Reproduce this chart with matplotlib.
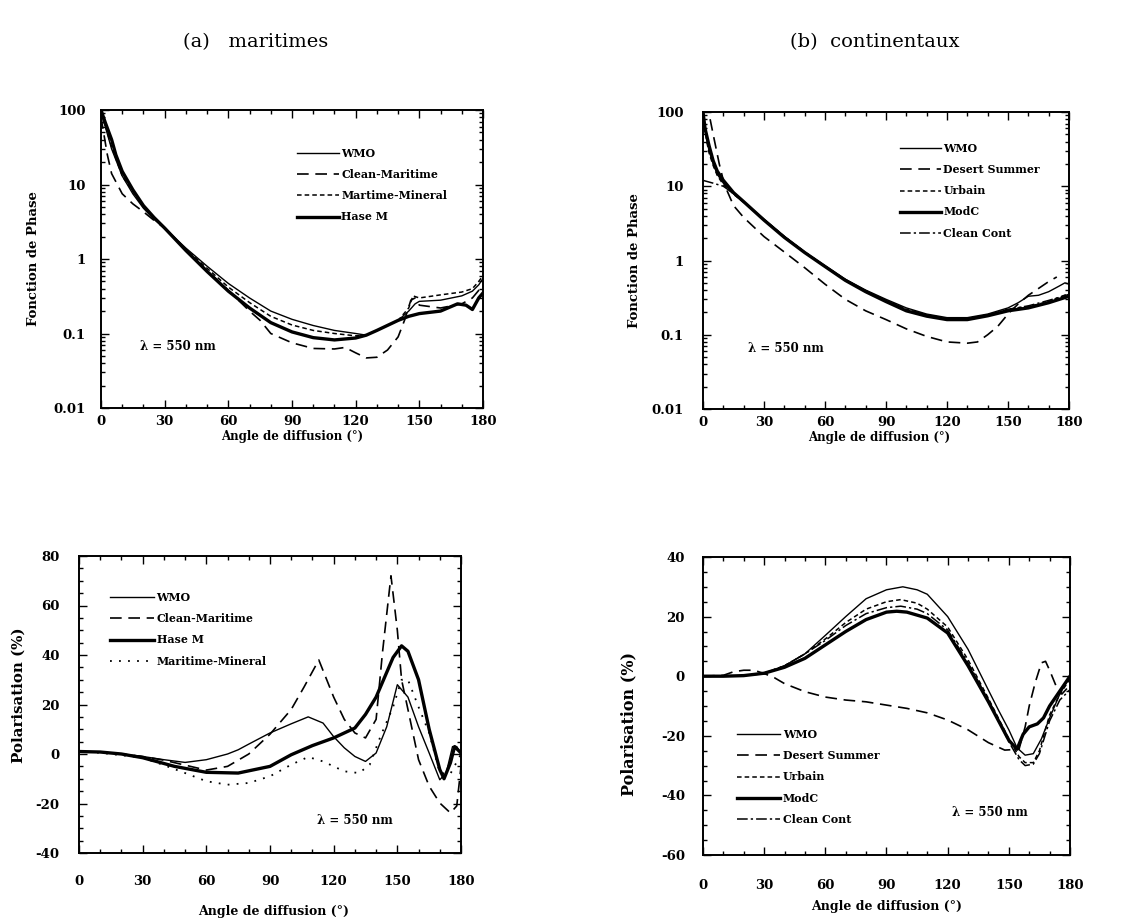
import numpy as np
import matplotlib
matplotlib.use("Agg")
import matplotlib.pyplot as plt
from matplotlib.ticker import MultipleLocator, LogLocator, NullFormatter, FixedLocator, FixedFormatter

# ---------------- data ----------------
# (a) maritimes - phase function
a_wmo_x = [0, 2, 5, 10, 15, 20, 25, 30, 40, 50, 60, 70, 80, 90, 100, 110, 120, 125, 130, 140, 145, 148, 150, 160, 170, 175, 178, 180]
a_wmo_y = [90, 60, 30, 13, 7.5, 4.8, 3.4, 2.6, 1.4, 0.8, 0.47, 0.3, 0.2, 0.155, 0.128, 0.11, 0.1, 0.095, 0.11, 0.15, 0.2, 0.25, 0.27, 0.28, 0.32, 0.37, 0.45, 0.55]
a_cm_x = [0, 3, 5, 10, 15, 20, 25, 30, 40, 50, 60, 70, 75, 80, 90, 100, 110, 115, 120, 125, 130, 135, 140, 143, 146, 148, 150, 160, 170, 175, 178, 180]
a_cm_y = [80, 25, 14, 7.5, 5.5, 4.3, 3.3, 2.6, 1.3, 0.7, 0.38, 0.2, 0.15, 0.1, 0.075, 0.063, 0.062, 0.065, 0.055, 0.047, 0.048, 0.06, 0.09, 0.15, 0.28, 0.3, 0.24, 0.22, 0.25, 0.3, 0.38, 0.42]
a_mm_x = [0, 2, 5, 10, 20, 30, 40, 50, 60, 70, 80, 90, 100, 110, 120, 125, 130, 140, 145, 147, 150, 160, 170, 175, 178, 180]
a_mm_y = [90, 62, 32, 13, 5, 2.6, 1.35, 0.75, 0.42, 0.26, 0.17, 0.13, 0.11, 0.1, 0.093, 0.095, 0.11, 0.15, 0.22, 0.32, 0.3, 0.33, 0.36, 0.4, 0.5, 0.6]
a_hm_x = [0, 2, 5, 7, 10, 15, 20, 25, 30, 40, 50, 60, 70, 80, 90, 100, 110, 120, 125, 130, 140, 145, 150, 160, 168, 172, 175, 178, 180]
a_hm_y = [100, 68, 40, 25, 15, 8.5, 5.2, 3.6, 2.6, 1.3, 0.68, 0.37, 0.22, 0.14, 0.105, 0.088, 0.082, 0.087, 0.095, 0.11, 0.15, 0.17, 0.185, 0.2, 0.25, 0.24, 0.21, 0.3, 0.35]

# (b) continentaux - phase function
b_wmo_x = [0, 1, 2, 3, 5, 7, 10, 15, 20, 30, 40, 50, 60, 70, 80, 90, 100, 110, 120, 130, 140, 150, 155, 160, 165, 170, 175, 178, 180]
b_wmo_y = [100, 60, 40, 30, 20, 14.5, 11, 8, 6.2, 3.6, 2.1, 1.3, 0.85, 0.56, 0.4, 0.3, 0.23, 0.19, 0.17, 0.17, 0.19, 0.23, 0.27, 0.33, 0.34, 0.38, 0.45, 0.5, 0.48]
b_ds_x = [3.5, 5, 8, 10, 12, 15, 20, 30, 40, 50, 60, 70, 80, 90, 100, 110, 120, 130, 135, 140, 145, 150, 155, 160, 165, 170, 174]
b_ds_y = [80, 50, 20, 12, 8.5, 5.5, 3.8, 2.1, 1.3, 0.8, 0.48, 0.3, 0.21, 0.16, 0.12, 0.095, 0.08, 0.077, 0.08, 0.1, 0.13, 0.19, 0.26, 0.34, 0.42, 0.52, 0.6]
b_ur_x = [0, 1, 2, 3, 5, 7, 10, 15, 20, 30, 40, 50, 60, 70, 80, 90, 100, 110, 120, 130, 140, 150, 160, 170, 180]
b_ur_y = [100, 58, 38, 28, 19, 14, 10.5, 7.8, 6.1, 3.55, 2.1, 1.3, 0.84, 0.55, 0.39, 0.29, 0.22, 0.185, 0.165, 0.165, 0.185, 0.22, 0.24, 0.28, 0.36]
b_mc_x = [0, 1, 3, 5, 7, 10, 15, 20, 30, 40, 50, 60, 70, 80, 90, 100, 110, 120, 130, 140, 150, 160, 170, 180]
b_mc_y = [100, 60, 35, 22, 16, 12, 8.2, 6.2, 3.5, 2.05, 1.28, 0.83, 0.54, 0.38, 0.28, 0.21, 0.178, 0.16, 0.16, 0.18, 0.21, 0.23, 0.27, 0.33]
b_cc_x = [0, 5, 10, 15, 20, 30, 40, 50, 60, 70, 80, 90, 100, 110, 120, 130, 140, 150, 160, 170, 180]
b_cc_y = [12, 11, 10, 8, 6.1, 3.55, 2.1, 1.3, 0.84, 0.55, 0.39, 0.29, 0.22, 0.185, 0.165, 0.165, 0.185, 0.22, 0.245, 0.29, 0.35]

# (a) maritimes - polarisation
p_a_wmo_x = [0, 10, 20, 30, 40, 50, 60, 70, 75, 80, 90, 100, 108, 115, 120, 125, 130, 135, 140, 145, 150, 155, 160, 165, 170, 173, 176, 178, 180]
p_a_wmo_y = [1, 0.8, 0, -1, -2.3, -3.4, -2.3, 0, 1.7, 4, 8.5, 12.2, 15, 12.5, 7, 2.5, -1, -3, 0.4, 11, 28, 23, 11, 0.4, -10.4, -7.7, 3, 3, 0]
p_a_cm_x = [0, 10, 20, 30, 40, 50, 60, 70, 80, 90, 100, 106, 113, 120, 125, 130, 135, 140, 143, 147, 150, 152, 155, 160, 165, 170, 175, 178, 180]
p_a_cm_y = [1, 0.8, 0, -1, -2.5, -4.5, -6.5, -5, 0, 8, 18, 27, 38, 23, 14, 8.5, 6.5, 14, 41, 72, 50, 30, 18, -2.3, -13, -19.8, -23.8, -21, -5]
p_a_hm_x = [0, 10, 20, 30, 45, 60, 75, 90, 100, 110, 120, 130, 135, 140, 145, 148, 152, 155, 160, 165, 170, 172, 175, 177, 180]
p_a_hm_y = [1, 0.8, 0, -1.5, -5, -7.4, -7.7, -5, -0.3, 3.4, 6.5, 10.5, 16, 23, 33, 39, 43.7, 41.5, 30, 10, -6.3, -10, -3.6, 3, 0.4]
p_a_mm_x = [0, 10, 20, 30, 40, 50, 60, 70, 80, 90, 100, 108, 115, 125, 132, 137, 142, 148, 152, 155, 160, 165, 170, 175, 180]
p_a_mm_y = [1, 0.5, -0.5, -1.5, -4.5, -7.7, -11, -12.4, -11.7, -9, -4.3, -1.2, -3, -7, -7.7, -4.3, 7, 19, 30, 30, 19, 8.5, -7.7, -8, 0]

# (b) continentaux - polarisation
p_b_wmo_x = [0, 10, 20, 30, 40, 50, 60, 70, 80, 90, 98, 105, 110, 120, 130, 140, 145, 150, 154, 158, 162, 166, 170, 175, 180]
p_b_wmo_y = [0, 0, 0.2, 0.8, 3.5, 7.5, 13.7, 20, 26, 29, 30, 29, 27.5, 20, 9, -4.7, -11.5, -18, -24, -26.5, -26, -21, -14, -6, 0]
p_b_ds_x = [0, 10, 15, 20, 25, 30, 35, 40, 50, 60, 70, 80, 90, 100, 110, 120, 130, 140, 148, 155, 158, 160, 163, 166, 168, 170, 173, 176, 180]
p_b_ds_y = [0, 0.3, 1.5, 2, 2, 0.9, -0.5, -2.5, -5.2, -7, -8, -8.6, -9.7, -10.8, -12.3, -14.7, -18, -22.3, -24.8, -24.5, -17, -10, -2, 4.5, 5, 2, -3, -6, -3]
p_b_ur_x = [0, 10, 20, 30, 40, 50, 60, 70, 80, 90, 97, 105, 110, 120, 130, 140, 150, 155, 158, 162, 165, 170, 175, 180]
p_b_ur_y = [0, 0, 0.2, 1, 3.5, 7.5, 12.5, 18, 22.5, 25, 25.7, 24.5, 22.5, 16.5, 5.5, -7.5, -21, -27, -29, -29, -25, -13, -6, -1]
p_b_mc_x = [0, 10, 20, 30, 40, 50, 60, 70, 80, 90, 95, 100, 110, 120, 130, 140, 150, 154, 157, 160, 164, 167, 170, 175, 180]
p_b_mc_y = [0, 0, 0.2, 1, 3, 6, 10.5, 15, 19, 21.5, 21.8, 21.5, 19.5, 14.5, 3.5, -8.6, -21.5, -24.5, -19.5, -17, -16, -14, -10, -5, 0]
p_b_cc_x = [0, 10, 20, 30, 40, 50, 60, 70, 80, 90, 97, 105, 110, 120, 130, 140, 150, 155, 158, 162, 165, 170, 175, 180]
p_b_cc_y = [0, 0, 0.2, 1, 3.5, 7.5, 12, 17, 21, 23, 23.5, 22.5, 21, 15.5, 4.5, -8, -22, -28, -30, -29.5, -26, -15, -8, -4.5]

# ---------------- style ----------------
SERIF = ["DejaVu Serif"]
plt.rcParams["font.family"] = SERIF
plt.rcParams["font.weight"] = "bold"
plt.rcParams["axes.unicode_minus"] = False

fig = plt.figure(figsize=(11.39, 9.22), dpi=100)
W, H = 1139, 922

def add_ax(l, t, r, b):
    return fig.add_axes([l / W, 1 - b / H, (r - l) / W, (b - t) / H])

axA = add_ax(101, 110, 483, 408)
axB = add_ax(703, 112, 1069, 409)
axC = add_ax(79, 556, 461, 853)
axD = add_ax(703, 557, 1070, 855)

thin = dict(color="black", lw=1.0, ls="-")
thick = dict(color="black", lw=2.4, ls="-")
longdash = dict(color="black", lw=1.2, ls=(0, (7, 4)))
shortdash = dict(color="black", lw=1.1, ls=(0, (3, 2)))
dotted = dict(color="black", lw=1.3, ls=(0, (1, 4)))
dashdot = dict(color="black", lw=1.1, ls=(0, (7, 2, 1.5, 2)))

# Panel A
axA.plot(a_wmo_x, a_wmo_y, label="WMO", **thin)
axA.plot(a_cm_x, a_cm_y, label="Clean-Maritime", **longdash)
axA.plot(a_mm_x, a_mm_y, label="Martime-Mineral", **shortdash)
axA.plot(a_hm_x, a_hm_y, label="Hase M", **thick)

# Panel B
axB.plot(b_wmo_x, b_wmo_y, label="WMO", **thin)
axB.plot(b_ds_x, b_ds_y, label="Desert Summer", **longdash)
axB.plot(b_ur_x, b_ur_y, label="Urbain", **shortdash)
axB.plot(b_mc_x, b_mc_y, label="ModC", **thick)
axB.plot(b_cc_x, b_cc_y, label="Clean Cont", **dashdot)

# Panel C
axC.plot(p_a_wmo_x, p_a_wmo_y, label="WMO", **thin)
axC.plot(p_a_cm_x, p_a_cm_y, label="Clean-Maritime", **longdash)
axC.plot(p_a_hm_x, p_a_hm_y, label="Hase M", **thick)
axC.plot(p_a_mm_x, p_a_mm_y, label="Maritime-Mineral", **dotted)

# Panel D
axD.plot(p_b_wmo_x, p_b_wmo_y, label="WMO", **thin)
axD.plot(p_b_ds_x, p_b_ds_y, label="Desert Summer", **longdash)
axD.plot(p_b_ur_x, p_b_ur_y, label="Urbain", **shortdash)
axD.plot(p_b_mc_x, p_b_mc_y, label="ModC", **thick)
axD.plot(p_b_cc_x, p_b_cc_y, label="Clean Cont", **dashdot)

for ax in (axA, axB):
    ax.set_yscale("log")
    ax.set_ylim(0.01, 100)
    ax.yaxis.set_major_locator(FixedLocator([0.01, 0.1, 1, 10, 100]))
    ax.yaxis.set_major_formatter(FixedFormatter(["0.01", "0.1", "1", "10", "100"]))
    ax.yaxis.set_minor_locator(LogLocator(base=10, subs=np.arange(2, 10)))
    ax.yaxis.set_minor_formatter(NullFormatter())

axC.set_ylim(-40, 80)
axC.yaxis.set_major_locator(MultipleLocator(20))
axC.yaxis.set_minor_locator(MultipleLocator(5))
axD.set_ylim(-60, 40)
axD.yaxis.set_major_locator(MultipleLocator(20))
axD.yaxis.set_minor_locator(MultipleLocator(5))

for ax in (axA, axB, axC, axD):
    ax.set_xlim(0, 180)
    ax.xaxis.set_major_locator(MultipleLocator(30))
    ax.xaxis.set_minor_locator(MultipleLocator(10))
    ax.tick_params(which="both", direction="in", top=True, right=True, width=1.0, colors="black")
    ax.tick_params(which="major", length=6)
    ax.tick_params(which="minor", length=3)
    for s in ax.spines.values():
        s.set_linewidth(1.4)

axA.tick_params(axis="x", which="major", pad=5)
axB.tick_params(axis="x", which="major", pad=5)
axC.tick_params(axis="x", which="major", pad=16)
axD.tick_params(axis="x", which="major", pad=17)
axA.tick_params(axis="y", which="major", pad=11)
axB.tick_params(axis="y", which="major", pad=14)
axC.tick_params(axis="y", which="major", pad=14)
axD.tick_params(axis="y", which="major", pad=13)

for ax in (axA, axB, axC, axD):
    for lab in ax.get_xticklabels() + ax.get_yticklabels():
        lab.set_family(SERIF)
        lab.set_weight("bold")
        lab.set_size(9.5)

labfont = dict(family=SERIF, weight="bold", size=9.5)
xl = "Angle de diffusion (°)"
axA.set_ylabel("Fonction de Phase", **labfont)
axA.yaxis.set_label_coords(-0.16, 0.5)
axA.set_xlabel(xl, family=SERIF, weight="bold", size=8.5)
axA.xaxis.set_label_coords(0.5, -0.075)
axB.set_ylabel("Fonction de Phase", **labfont)
axB.yaxis.set_label_coords(-0.17, 0.5)
axB.set_xlabel(xl, family=SERIF, weight="bold", size=8.5)
axB.xaxis.set_label_coords(0.48, -0.075)
axC.set_ylabel("Polarisation (%)", family=SERIF, weight="bold", size=10.8)
axC.yaxis.set_label_coords(-0.14, 0.53)
axC.set_xlabel(xl, family=SERIF, weight="bold", size=9)
axC.xaxis.set_label_coords(0.51, -0.175)
axD.set_ylabel("Polarisation (%)", family=SERIF, weight="bold", size=11.5)
axD.yaxis.set_label_coords(-0.18, 0.44)
axD.set_xlabel(xl, family=SERIF, weight="bold", size=9)
axD.xaxis.set_label_coords(0.50, -0.152)

lam = "λ = 550 nm"
lamfont = dict(family=SERIF, weight="bold", size=8.5, va="center", ha="left")
axA.text(0.102, 0.205, lam, transform=axA.transAxes, **lamfont)
axB.text(0.123, 0.205, lam, transform=axB.transAxes, **lamfont)
axC.text(0.623, 0.108, lam, transform=axC.transAxes, **lamfont)
axD.text(0.678, 0.141, lam, transform=axD.transAxes, **lamfont)

legfont = dict(family=SERIF, weight="bold", size=7.9)
def leg(ax, x, y, hl):
    ax.legend(loc="upper left", bbox_to_anchor=(x, y), frameon=False, prop=legfont,
              handlelength=hl, handletextpad=0.25, labelspacing=0.92, borderpad=0, borderaxespad=0)

leg(axA, 0.513, 0.872, 3.8)
leg(axB, 0.538, 0.895, 3.7)
leg(axC, 0.081, 0.878, 4.0)
leg(axD, 0.093, 0.422, 3.9)

tfont = dict(family=SERIF, weight="normal", va="center", ha="left", size=14)
fig.text(183 / W, 1 - 42 / H, "(a)   maritimes", **tfont)
fig.text(790 / W, 1 - 42 / H, "(b)  continentaux", **tfont)

fig.savefig("out.png", dpi=100)
